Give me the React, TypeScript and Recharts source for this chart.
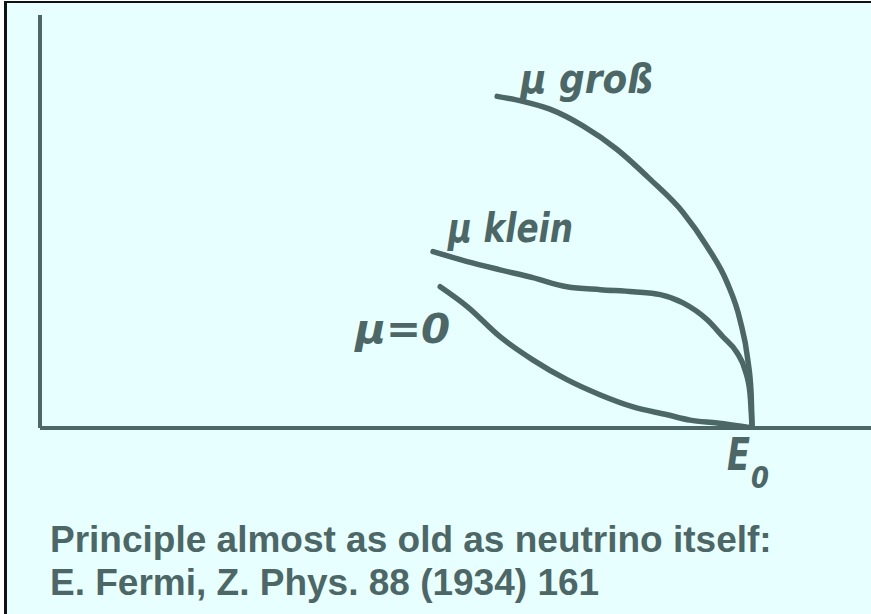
import { LineChart, Line, XAxis, YAxis } from "recharts";

// Beta spectrum near the endpoint, energy given as a fraction of E0,
// counts in arbitrary units (axis top = 100)
const grossEnergy = [0.642, 0.678, 0.716, 0.763, 0.81, 0.857, 0.903, 0.937, 0.965, 0.983, 0.994, 0.9986, 1.0];
const grossCounts = [80.3, 79.1, 77.2, 73.1, 67.5, 60.2, 52.2, 43.9, 35.2, 26.2, 16.5, 8.5, 0];

const kleinEnergy = [0.552, 0.6, 0.646, 0.692, 0.74, 0.787, 0.833, 0.871, 0.903, 0.937, 0.959, 0.979, 0.99, 0.997, 1.0];
const kleinCounts = [42.7, 40.3, 38.3, 36.4, 34.2, 33.5, 33.0, 32.3, 30.3, 26.2, 22.1, 18.2, 14.1, 8.5, 0];

const zeroEnergy = [0.562, 0.6, 0.646, 0.692, 0.74, 0.787, 0.833, 0.881, 0.913, 0.951, 1.0];
const zeroCounts = [34.2, 29.4, 22.1, 16.5, 11.7, 8.0, 5.1, 3.2, 1.9, 1.2, 0];

const endpointTicks = [1];

const captionLines = [
  "Principle almost as old as neutrino itself:",
  "E. Fermi, Z. Phys. 88 (1934) 161",
];

const INK = "#4d6666";
const HAND_FONT = "'DejaVu Sans Condensed', 'DejaVu Sans', sans-serif";

const toPoints = (energy: number[], counts: number[]) =>
  energy.map((x, i) => ({ x, y: counts[i] }));

// label drawn once, next to the first point of a curve
function curveLabel(text: string, dx: number, dy: number, width: number) {
  return (props: any) => {
    if (props.index !== 0) return <g />;
    return (
      <text
        x={props.x + dx}
        y={props.y + dy}
        fill={INK}
        fontFamily={HAND_FONT}
        fontStyle="italic"
        fontWeight="bold"
        fontSize={40}
        textLength={width}
        lengthAdjust="spacingAndGlyphs"
      >
        {text}
      </text>
    );
  };
}

const EndpointTick = ({ x }: any) => (
  <g fill={INK} fontFamily={HAND_FONT} fontStyle="italic" fontWeight="bold">
    <text x={x - 25} y={470} fontSize={44} textLength={23} lengthAdjust="spacingAndGlyphs">
      E
    </text>
    <text x={x - 1} y={488} fontSize={30} textLength={18} lengthAdjust="spacingAndGlyphs">
      0
    </text>
  </g>
);

export default function App() {
  return (
    <div style={{ position: "relative", width: 871, height: 614, background: "#fff" }}>
      <style>{"body{margin:0}"}</style>
      <div
        style={{
          position: "absolute",
          left: 4,
          top: 1,
          width: 867,
          height: 613,
          boxSizing: "border-box",
          borderTop: "2px solid #111",
          borderLeft: "3px solid #111",
          background: "#e8ffff",
        }}
      />
      <div style={{ position: "absolute", left: 0, top: 0 }}>
        <LineChart width={871} height={614} margin={{ top: 15, right: 0, left: 39, bottom: 185 }}>
          <XAxis
            type="number"
            dataKey="x"
            domain={[0, 1.167]}
            allowDataOverflow
            ticks={endpointTicks}
            tick={<EndpointTick />}
            tickLine={false}
            height={1}
            axisLine={{ stroke: INK, strokeWidth: 4 }}
          />
          <YAxis
            type="number"
            dataKey="y"
            domain={[0, 100]}
            allowDataOverflow
            tick={false}
            tickLine={false}
            width={1}
            axisLine={{ stroke: INK, strokeWidth: 4 }}
          />
          <Line
            data={toPoints(grossEnergy, grossCounts)}
            dataKey="y"
            type="monotone"
            stroke={INK}
            strokeWidth={5.5}
            strokeLinecap="round"
            dot={false}
            activeDot={false}
            isAnimationActive={false}
            label={curveLabel("μ groß", 23, -3, 133)}
          />
          <Line
            data={toPoints(kleinEnergy, kleinCounts)}
            dataKey="y"
            type="monotone"
            stroke={INK}
            strokeWidth={5.5}
            strokeLinecap="round"
            dot={false}
            activeDot={false}
            isAnimationActive={false}
            label={curveLabel("μ klein", 15, -10, 125)}
          />
          <Line
            data={toPoints(zeroEnergy, zeroCounts)}
            dataKey="y"
            type="monotone"
            stroke={INK}
            strokeWidth={5.5}
            strokeLinecap="round"
            dot={false}
            activeDot={false}
            isAnimationActive={false}
            label={curveLabel("μ=0", -85, 56, 95)}
          />
        </LineChart>
      </div>
      <svg width={871} height={614} style={{ position: "absolute", left: 0, top: 0, pointerEvents: "none" }}>
        {captionLines.map((line, i) => (
          <text
            key={line}
            x={50}
            y={552 + i * 43}
            fill={INK}
            fontFamily="'Liberation Sans', Arial, sans-serif"
            fontWeight="bold"
            fontSize={37}
          >
            {line}
          </text>
        ))}
      </svg>
    </div>
  );
}
